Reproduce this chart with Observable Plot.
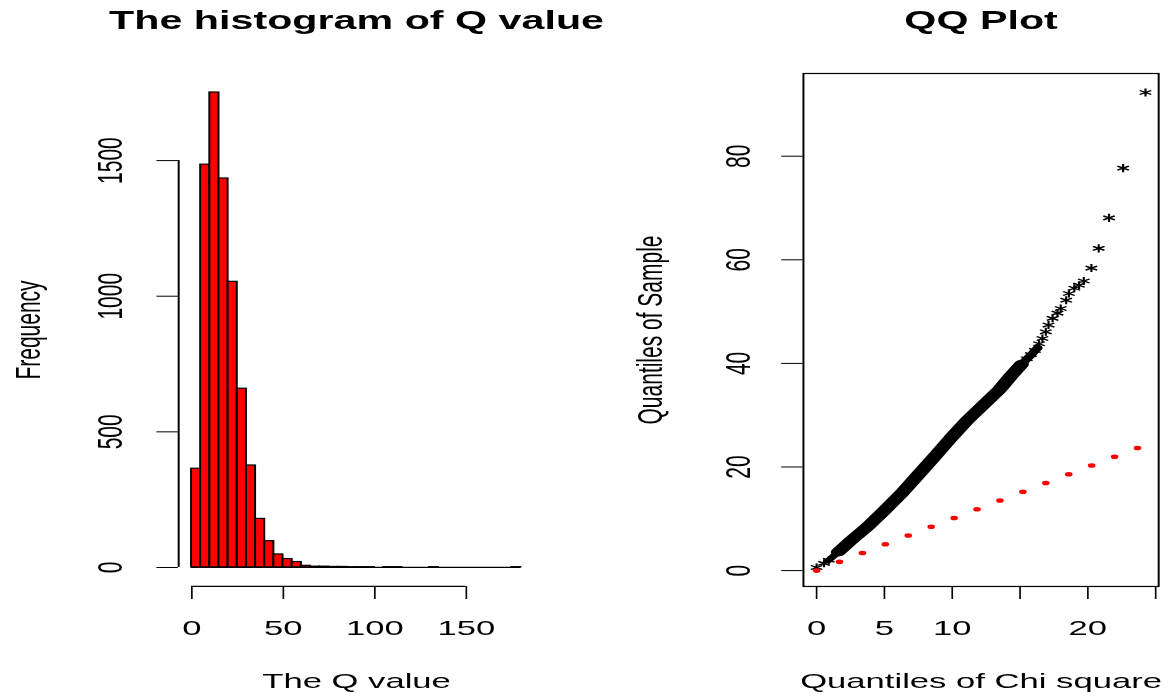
<!DOCTYPE html>
<html>
<head>
<meta charset="utf-8">
<script src="https://cdn.jsdelivr.net/npm/d3@7"></script>
<script src="https://cdn.jsdelivr.net/npm/@observablehq/plot@0.6"></script>
<style>
  html, body { margin: 0; padding: 0; background: #fff; overflow: hidden; }
  /* the two panels are laid out at their native size and stretched sideways */
  #fig { display: flex; transform-origin: 0 0; }
  #fig svg { overflow: visible; }
  #fig svg line { stroke-width: 1.2px; }
</style>
</head>
<body>
<div id="fig"></div>
<script>
// ---- Histogram of Q ----
const histBreaks = [0, 5, 10, 15, 20, 25, 30, 35, 40, 45, 50, 55, 60, 65, 70, 75, 80, 85, 90,
                    95, 100, 105, 110, 115, 120, 125, 130, 135, 140, 145, 150, 155, 160, 165, 170, 175, 180];
const histCounts = [364, 1485, 1751, 1434, 1053, 659, 376, 179, 97, 48, 31, 20, 6, 3,
                    3, 2, 2, 1, 1, 1, 0, 1, 1, 0, 0, 0, 1, 0, 0, 0, 0, 0, 0, 0, 0, 1];
const histXTicks = [0, 50, 100, 150];
const histYTicks = [0, 500, 1000, 1500];

// ---- QQ plot: sample quantiles against chi-square quantiles ----
// dense run of overlapping points (thin start, thick body, narrower top)
const bandStartTheo   = [0.9, 1.6, 2.5];
const bandStartSample = [2.0, 3.6, 5.7];
const bandTheo   = [1.6, 2.5, 3.8, 5.0, 6.3, 7.5, 8.7, 9.9, 11.1, 12.3, 13.5, 14.3, 15.1];
const bandSample = [3.6, 5.7, 8.6, 11.6, 15.0, 18.5, 22.0, 25.6, 29.0, 32.0, 35.0, 37.5, 39.8];
const bandTopTheo   = [15.1, 15.8, 16.3];
const bandTopSample = [39.8, 41.6, 43.0];
// individually visible points
const starTheo   = [0.0, 0.55, 0.9, 15.5, 15.8, 16.1, 16.4, 16.65, 16.9, 17.1,
                    17.4, 17.76, 18.0, 18.4, 18.6, 19.0, 19.35, 19.7, 20.26, 20.8, 21.56, 22.6, 24.25];
const starSample = [0.6, 1.4, 2.0, 40.9, 41.7, 42.5, 43.8, 44.8, 46.1, 47.4,
                    48.7, 49.7, 50.6, 52.2, 53.5, 54.5, 55.1, 55.9, 58.4, 62.2, 68.1, 77.7, 92.3];
// reference points on the identity line
const refTheo   = [0, 1.69, 3.38, 5.07, 6.76, 8.45, 10.14, 11.83, 13.52, 15.21, 16.90, 18.59, 20.28, 21.97, 23.66];
const refSample = [0, 1.69, 3.38, 5.07, 6.76, 8.45, 10.14, 11.83, 13.52, 15.21, 16.90, 18.59, 20.28, 21.97, 23.66];
const qqXTicks = [0, 5, 10, 15, 20, 25];
const qqXTickLabels = [0, 5, 10, 20];
const qqYTicks = [0, 20, 40, 60, 80];

const FONT = "'Liberation Sans', Arial, Helvetica, sans-serif";
const STRETCH = 1.65;                 // horizontal stretch of the whole figure
const W = 1175 / STRETCH;
const HALF = W / 2;
const H = 696;

// R-style axis range: data range padded by 4% on both ends
const pad4 = ([a, b]) => { const d = (b - a) * 0.04; return [a - d, b + d]; };

const baseStyle = {fontFamily: FONT, color: "black", overflow: "visible"};
const noText = () => "";
const pairs = (xs, ys) => xs.map((t, i) => ({t, s: ys[i]}));

// ---------- left panel ----------
const bins = histCounts.map((c, i) => ({x1: histBreaks[i], x2: histBreaks[i + 1], count: c}));
const hxDom = pad4(d3.extent(histBreaks));
const hyDom = pad4([0, d3.max(histCounts)]);

const hist = Plot.plot({
  width: HALF, height: H,
  marginTop: 73, marginBottom: 110, marginLeft: 107.8, marginRight: HALF - 323.4,
  style: baseStyle,
  x: {domain: hxDom, ticks: histXTicks, tickSize: 13, tickFormat: noText, label: null},
  y: {domain: hyDom, ticks: histYTicks, tickSize: 13, tickFormat: noText, label: null},
  marks: [
    Plot.rectY(bins, {x1: "x1", x2: "x2", y: "count", fill: "#ff0000", stroke: "black", strokeWidth: 1.2}),
    // empty bins collapse onto the baseline
    Plot.ruleY([0], {x1: histBreaks[0], x2: histBreaks[histBreaks.length - 1], stroke: "black"}),
    // axis lines span the first to the last tick
    Plot.ruleX([hxDom[0]], {y1: histYTicks[0], y2: histYTicks[histYTicks.length - 1], stroke: "black"}),
    Plot.ruleY([hyDom[0]], {x1: histXTicks[0], x2: histXTicks[histXTicks.length - 1], stroke: "black"}),
    Plot.text(histXTicks, {x: d => d, text: d => String(d), frameAnchor: "bottom", dy: 41.5,
      textAnchor: "middle", lineAnchor: "middle", fontSize: 21}),
    Plot.text(histYTicks, {y: d => d, text: d => String(d), frameAnchor: "left", dx: -41,
      rotate: -90, textAnchor: "middle", lineAnchor: "middle", fontSize: 21}),
    Plot.text(["The Q value"], {frameAnchor: "bottom", dy: 95, textAnchor: "middle",
      lineAnchor: "middle", fontSize: 21}),
    Plot.text(["Frequency"], {frameAnchor: "left", dx: -91, rotate: -90, textAnchor: "middle",
      lineAnchor: "middle", fontSize: 21}),
    Plot.text(["The histogram of Q value"], {frameAnchor: "top", dy: -53, textAnchor: "middle",
      lineAnchor: "middle", fontSize: 25, fontWeight: "bold"})
  ]
});

// ---------- right panel ----------
const qxDom = pad4([d3.min(starTheo), d3.max(starTheo)]);
const qyDom = pad4([d3.min(starSample), d3.max(starSample)]);

const qq = Plot.plot({
  width: HALF, height: H,
  marginTop: 73, marginBottom: 110, marginLeft: 486.5 - HALF, marginRight: W - 701.8,
  style: baseStyle,
  x: {domain: qxDom, ticks: qqXTicks, tickSize: 13, tickFormat: noText, label: null},
  y: {domain: qyDom, ticks: qqYTicks, tickSize: 13, tickFormat: noText, label: null},
  marks: [
    Plot.frame({stroke: "black", strokeWidth: 1.2}),
    Plot.line(pairs(bandStartTheo, bandStartSample), {x: "t", y: "s", stroke: "black", strokeWidth: 5,
      strokeLinecap: "round", strokeLinejoin: "round"}),
    Plot.line(pairs(bandTheo, bandSample), {x: "t", y: "s", stroke: "black", strokeWidth: 9,
      strokeLinecap: "round", strokeLinejoin: "round"}),
    Plot.line(pairs(bandTopTheo, bandTopSample), {x: "t", y: "s", stroke: "black", strokeWidth: 6,
      strokeLinecap: "round", strokeLinejoin: "round"}),
    Plot.dot(pairs(starTheo, starSample), {x: "t", y: "s", symbol: "asterisk", r: 3.8,
      stroke: "black", strokeWidth: 1.3}),
    Plot.dot(pairs(refTheo, refSample), {x: "t", y: "s", r: 2.3, fill: "#ff0000", stroke: "none"}),
    Plot.text(qqXTickLabels, {x: d => d, text: d => String(d), frameAnchor: "bottom", dy: 41.5,
      textAnchor: "middle", lineAnchor: "middle", fontSize: 21}),
    Plot.text(qqYTicks, {y: d => d, text: d => String(d), frameAnchor: "left", dx: -39,
      rotate: -90, textAnchor: "middle", lineAnchor: "middle", fontSize: 21}),
    Plot.text(["Quantiles of Chi square"], {frameAnchor: "bottom", dy: 95, textAnchor: "middle",
      lineAnchor: "middle", fontSize: 21}),
    Plot.text(["Quantiles of Sample"], {frameAnchor: "left", dx: -92.3, rotate: -90,
      textAnchor: "middle", lineAnchor: "middle", fontSize: 21}),
    Plot.text(["QQ Plot"], {frameAnchor: "top", dy: -53, textAnchor: "middle",
      lineAnchor: "middle", fontSize: 25, fontWeight: "bold"})
  ]
});

const fig = document.getElementById("fig");
fig.style.width = W + "px";
fig.style.transform = `scaleX(${STRETCH})`;
fig.append(hist, qq);
</script>
</body>
</html>
